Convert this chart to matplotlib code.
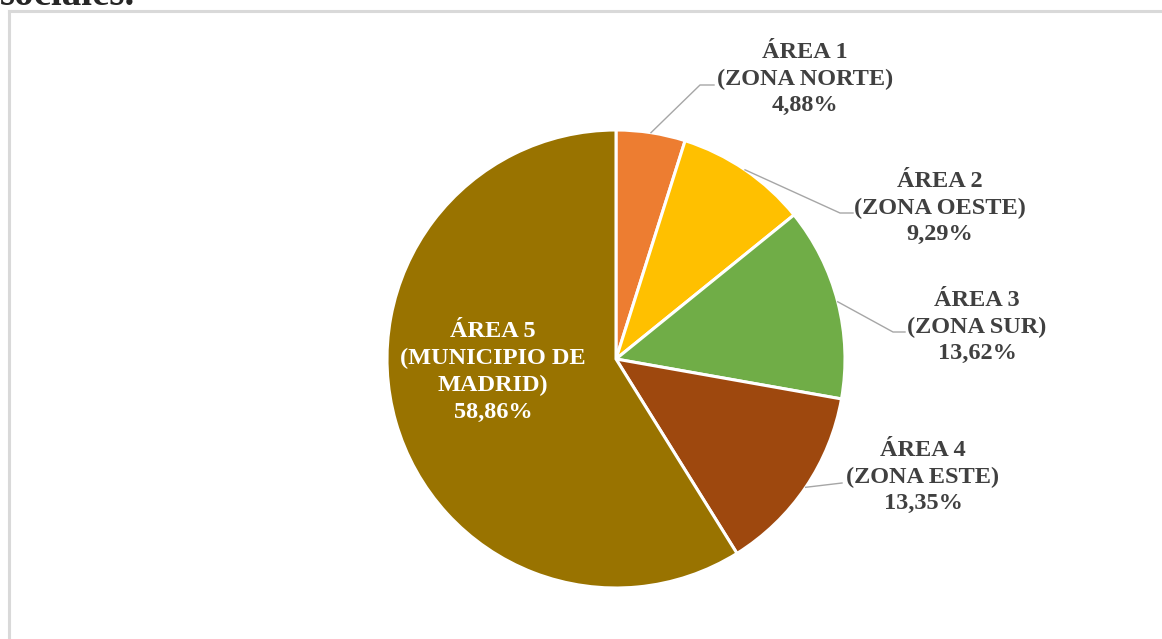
import numpy as np
import matplotlib
matplotlib.use("Agg")
import matplotlib.pyplot as plt
from matplotlib.lines import Line2D

# ---- data ----
areas = ["ÁREA 1", "ÁREA 2", "ÁREA 3", "ÁREA 4", "ÁREA 5"]
zonas = ["(ZONA NORTE)", "(ZONA OESTE)", "(ZONA SUR)", "(ZONA ESTE)", "(MUNICIPIO DE\nMADRID)"]
values = [4.88, 9.29, 13.62, 13.35, 58.86]
pct_labels = ["4,88%", "9,29%", "13,62%", "13,35%", "58,86%"]
colors = ["#ED7D31", "#FFC000", "#70AD47", "#9E480E", "#997300"]

W, H = 1162, 639
fig = plt.figure(figsize=(W / 100, H / 100), dpi=100)
fig.patch.set_facecolor("white")

# frame of the chart area (only top and left edges are visible)
fx, fy = 9 / W, 1 - 11 / H
fig.add_artist(Line2D([fx, 1.05], [fy, fy], transform=fig.transFigure,
                      color="#D9D9D9", linewidth=2.2))
fig.add_artist(Line2D([fx, fx], [fy, -0.05], transform=fig.transFigure,
                      color="#D9D9D9", linewidth=2.2))
# clipped heading from the document
fig.text(0 / W, 1 - 5 / H, "sociales.", family="Liberation Serif", weight="bold",
         fontsize=28, color="#262626", ha="left", va="baseline")

cx, cy, R = 616, 359, 229
ax = fig.add_axes([(cx - R) / W, 1 - (cy + R) / H, 2 * R / W, 2 * R / H])
ax.axis("off")

wedges, _ = ax.pie(values, colors=colors, startangle=90, counterclock=False,
                   radius=1.0, center=(0, 0),
                   wedgeprops=dict(edgecolor="white", linewidth=2.2))
ax.set_xlim(-1, 1)
ax.set_ylim(-1, 1)
ax.set_aspect("auto")


def px(x, y):
    return (x - cx) / R, (cy - y) / R


# label layout (pixel positions of text centers, leader elbow and end)
text_pos = [(805, 79), (940, 208), (977, 327), (923, 477), (493, 372)]
elbows = [(700, 85), (840, 213), (893, 332), None, None]
ends = [(714, 85), (853, 213), (905, 332), (842, 483), None]

font = dict(family="Liberation Serif", weight="bold", fontsize=17.5)
for i, w in enumerate(wedges):
    label = areas[i] + "\n" + zonas[i] + "\n" + pct_labels[i]
    tx, ty = px(*text_pos[i])
    col = "white" if i == 4 else "#404040"
    ax.text(tx, ty, label, ha="center", va="center", multialignment="center",
            color=col, linespacing=1.36, **font)
    if ends[i] is not None:
        ang = np.deg2rad((w.theta1 + w.theta2) / 2)
        pts = [(np.cos(ang), np.sin(ang))]
        if elbows[i] is not None:
            pts.append(px(*elbows[i]))
        pts.append(px(*ends[i]))
        xs, ys = zip(*pts)
        ax.plot(xs, ys, color="#A6A6A6", linewidth=1.0, clip_on=False)

fig.savefig("out.png", dpi=100, facecolor="white")
